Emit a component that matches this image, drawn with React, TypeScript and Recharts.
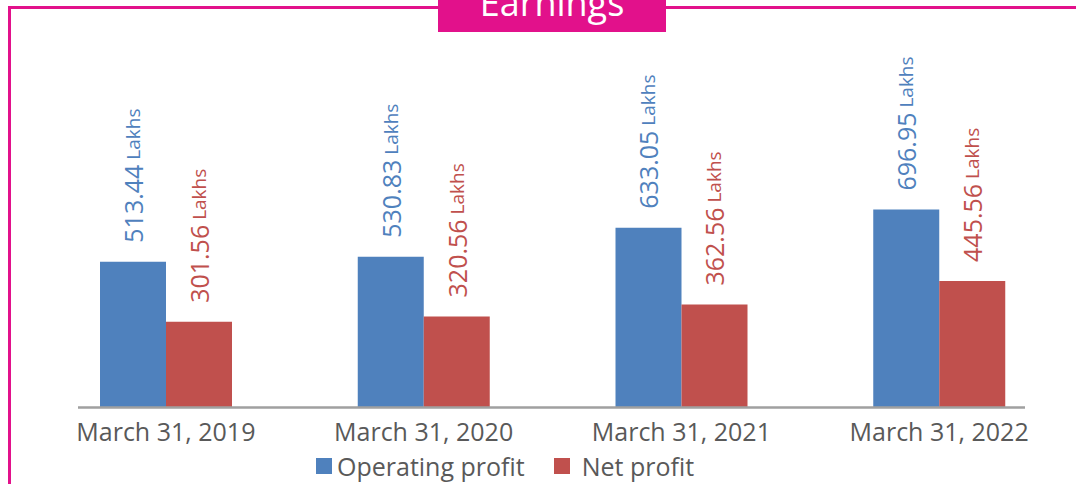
import React from "react";
import { BarChart, Bar, XAxis, YAxis, LabelList, ReferenceLine, Legend } from "recharts";

const categories = ["March 31, 2019", "March 31, 2020", "March 31, 2021", "March 31, 2022"];
const operatingProfit = [513.44, 530.83, 633.05, 696.95];
const netProfit = [301.56, 320.56, 362.56, 445.56];
const seriesNames = ["Operating profit", "Net profit"];
const seriesColors = ["#4F81BD", "#C0504D"];
const unit = "Lakhs";
const title = "Earnings";

const data = categories.map((c, i) => ({ name: c, op: operatingProfit[i], np: netProfit[i] }));

const FONT = "'Open Sans', 'Noto Sans', sans-serif";
const PINK = "#E2118B";

const makeLabel = (color: string) => (props: any) => {
  const { x, y, width, value } = props;
  const cx = Number(x) + Number(width) / 2;
  const ty = Number(y) - 19;
  return (
    <text
      x={cx}
      y={ty}
      transform={`rotate(-90, ${cx}, ${ty})`}
      textAnchor="start"
      dominantBaseline="central"
      fill={color}
      fontFamily={FONT}
    >
      <tspan fontSize={25}>{Number(value).toFixed(2)}</tspan>
      <tspan fontSize={19}>{" " + unit}</tspan>
    </text>
  );
};

const LegendContent = () => (
  <div style={{ display: "flex", alignItems: "center", marginLeft: 279, fontFamily: FONT, fontSize: 25, color: "#595959", height: 36 }}>
    {seriesNames.map((n, i) => (
      <div key={n} style={{ display: "flex", alignItems: "center", marginRight: i === 0 ? 29 : 0 }}>
        <span style={{ display: "inline-block", width: 16, height: 16, background: seriesColors[i], marginRight: i === 0 ? 5 : 12 }} />
        <span>{n}</span>
      </div>
    ))}
  </div>
);

export default function App() {
  return (
    <div style={{ position: "fixed", left: 0, top: 0, width: 1076, height: 484, background: "#fff", overflow: "hidden" }}>
      <div style={{ position: "absolute", left: 8, top: 6, width: 1100, height: 600, border: `3px solid ${PINK}`, boxSizing: "border-box" }} />
      <div
        style={{
          position: "absolute",
          left: 438,
          top: 0,
          width: 228,
          height: 32,
          background: PINK,
          color: "#fff",
          fontFamily: FONT,
          fontSize: 36,
          textAlign: "center",
          overflow: "hidden",
        }}
      >
        <div style={{ position: "absolute", left: 0, right: 0, top: -27, lineHeight: "60px" }}>{title}</div>
      </div>
      <div style={{ position: "absolute", left: 0, top: 0 }}>
        <BarChart width={1076} height={484} data={data} margin={{ top: 66.7, right: 8, left: 37, bottom: 0 }} barGap={0} barSize={66}>
          <XAxis
            dataKey="name"
            axisLine={false}
            tickLine={false}
            height={40.5}
            tickMargin={10}
            interval={0}
            tick={{ fill: "#595959", fontSize: 25, fontFamily: FONT }}
          />
          <YAxis domain={[0, 1200]} hide />
          <Legend verticalAlign="bottom" height={36} content={<LegendContent />} />
          <Bar dataKey="op" name={seriesNames[0]} fill={seriesColors[0]} isAnimationActive={false}>
            <LabelList dataKey="op" content={makeLabel(seriesColors[0])} />
          </Bar>
          <Bar dataKey="np" name={seriesNames[1]} fill={seriesColors[1]} isAnimationActive={false}>
            <LabelList dataKey="np" content={makeLabel(seriesColors[1])} />
          </Bar>
          <ReferenceLine
            y={0}
            stroke="#A0A0A0"
            strokeWidth={2.5}
            strokeDasharray="0 41 947 200"
            ifOverflow="visible"
          />
        </BarChart>
      </div>
    </div>
  );
}
